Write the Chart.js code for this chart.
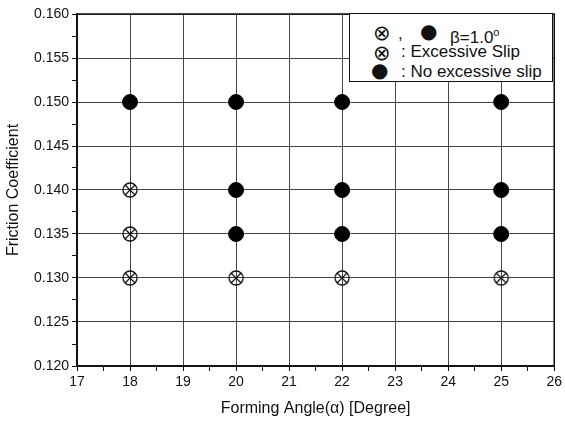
<!DOCTYPE html>
<html lang="en">
<head>
<meta charset="UTF-8">
<title>Friction Coefficient vs Forming Angle</title>
<script src="https://cdn.jsdelivr.net/npm/chart.js"></script>
<style>
  body { margin: 0; background: #fff; }
  #wrap { position: relative; width: 565px; height: 422px; }
  #legenda {
    position: absolute; left: 349px; top: 13px; width: 204px; height: 69px;
    border: 1.5px solid #111; background: #fff; box-sizing: border-box;
    font-family: "Liberation Sans", Arial, sans-serif; font-size: 17px; color: #111;
  }
  #legenda div { position: absolute; white-space: nowrap; line-height: 18px; }
  .sym { font-family: "DejaVu Sans"; font-size: 21px; }
  .bola { font-family: "DejaVu Sans"; font-size: 20px; }
</style>
</head>
<body>
<div id="wrap">
  <canvas id="grafico" width="565" height="422"></canvas>
  <div id="legenda">
    <div class="sym" style="left:23px; top:10px;">&#8855;</div>
    <div style="left:48px; top:11px;">,</div>
    <div class="bola" style="left:70px; top:8px;">&#9679;</div>
    <div style="left:100px; top:9px;">&beta;=1.0<sup style="font-size:11px">o</sup></div>
    <div class="sym" style="left:23px; top:30px;">&#8855;</div>
    <div style="left:51px; top:29px;">: Excessive Slip</div>
    <div class="bola" style="left:21px; top:47px;">&#9679;</div>
    <div style="left:51px; top:49px;">: No excessive slip</div>
  </div>
</div>

<script>
// dados
const anguloSlip = [18, 18, 18, 20, 22, 25];
const atritoSlip = [0.130, 0.135, 0.140, 0.130, 0.130, 0.130];
const anguloNoSlip = [18, 20, 20, 20, 22, 22, 22, 25, 25, 25];
const atritoNoSlip = [0.150, 0.135, 0.140, 0.150, 0.135, 0.140, 0.150, 0.135, 0.140, 0.150];

// marcador circulo com X
function marcadorX() {
  const c = document.createElement('canvas');
  c.width = 18; c.height = 18;
  const g = c.getContext('2d');
  g.strokeStyle = '#111';
  g.lineWidth = 1.3;
  g.beginPath(); g.arc(9, 9, 7, 0, Math.PI * 2); g.stroke();
  g.beginPath();
  g.moveTo(4, 4); g.lineTo(14, 14);
  g.moveTo(14, 4); g.lineTo(4, 14);
  g.stroke();
  return c;
}

const moldura = {
  id: 'moldura',
  afterDraw(chart) {
    const a = chart.chartArea, ctx = chart.ctx;
    ctx.save();
    ctx.strokeStyle = '#111';
    ctx.lineWidth = 1.5;
    ctx.strokeRect(a.left, a.top, a.right - a.left, a.bottom - a.top);
    ctx.restore();
  }
};

function ehMaior(v, passo) {
  return Math.abs(v / passo - Math.round(v / passo)) < 1e-6;
}

const ctx = document.getElementById('grafico');
new Chart(ctx, {
  type: 'scatter',
  data: {
    datasets: [{
      label: 'Excessive Slip',
      data: anguloSlip.map((x, i) => ({ x: x, y: atritoSlip[i] })),
      pointStyle: marcadorX(),
      pointRadius: 9
    }, {
      label: 'No excessive slip',
      data: anguloNoSlip.map((x, i) => ({ x: x, y: atritoNoSlip[i] })),
      pointStyle: 'circle',
      pointRadius: 7.5,
      backgroundColor: '#000',
      borderColor: '#000'
    }]
  },
  options: {
    responsive: false,
    animation: false,
    layout: { padding: { top: 14, right: 8 } },
    plugins: { legend: { display: false }, tooltip: { enabled: false } },
    scales: {
      x: {
        type: 'linear', min: 17, max: 26,
        afterFit(s) { s.height = 56; },
        ticks: {
          stepSize: 0.5, autoSkip: false, maxRotation: 0, color: '#111',
          font: { family: 'Liberation Sans', size: 14 },
          callback: v => ehMaior(v, 1) ? String(Math.round(v)) : ''
        },
        grid: {
          color: c => ehMaior(c.tick.value, 1) ? '#444' : 'transparent',
          tickColor: '#111', tickLength: 5, lineWidth: 1
        },
        border: { color: '#111', width: 1.5 },
        title: {
          display: true, text: 'Forming Angle(\u03b1) [Degree]', color: '#111',
          font: { family: 'Liberation Sans', size: 16 }, padding: { top: 6 }
        }
      },
      y: {
        min: 0.120, max: 0.160,
        afterFit(s) { s.width = 77; },
        ticks: {
          stepSize: 0.0025, autoSkip: false, color: '#111',
          font: { family: 'Liberation Sans', size: 14 },
          callback: v => ehMaior(v, 0.005) ? v.toFixed(3) : ''
        },
        grid: {
          color: c => ehMaior(c.tick.value, 0.005) ? '#444' : 'transparent',
          tickColor: '#111', tickLength: 5, lineWidth: 1
        },
        border: { color: '#111', width: 1.5 },
        title: {
          display: true, text: 'Friction Coefficient', color: '#111',
          font: { family: 'Liberation Sans', size: 16 }, padding: { bottom: 4 }
        }
      }
    }
  },
  plugins: [moldura]
});
</script>
</body>
</html>
